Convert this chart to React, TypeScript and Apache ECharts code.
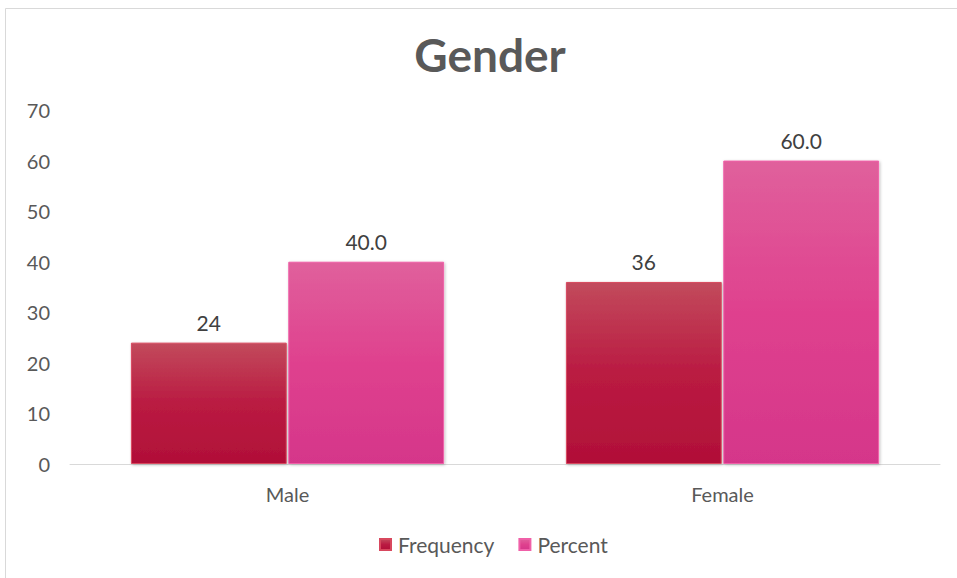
import React, { useEffect, useRef } from "react";
import * as echarts from "echarts";

const categories = ["Male", "Female"];
const frequency = [24, 36];
const percent = [40.0, 60.0];
const yTicks = [0, 10, 20, 30, 40, 50, 60, 70];

const FONT = "Lato, 'Open Sans', sans-serif";

export default function App() {
  const ref = useRef<HTMLDivElement>(null);
  useEffect(() => {
    if (!ref.current) return;
    const chart = echarts.init(ref.current, null, { renderer: "svg" });
    const freqColor = new echarts.graphic.LinearGradient(0, 0, 0, 1, [
      { offset: 0, color: "#c24a5c" },
      { offset: 0.5, color: "#ba1b42" },
      { offset: 1, color: "#b10f38" },
    ]);
    const pctColor = new echarts.graphic.LinearGradient(0, 0, 0, 1, [
      { offset: 0, color: "#e0609c" },
      { offset: 0.5, color: "#df418e" },
      { offset: 1, color: "#d5368a" },
    ]);
    chart.setOption({
      animation: false,
      backgroundColor: "#ffffff",
      title: {
        text: "Gender",
        left: 485,
        top: 26,
        textAlign: "center",
        textStyle: { fontFamily: FONT, fontSize: 46, fontWeight: "bold", color: "#595959" },
      },
      graphic: [
        {
          type: "rect",
          shape: { x: 5.5, y: 8.5, width: 960, height: 590 },
          style: { fill: "none", stroke: "#d9d9d9", lineWidth: 1 },
          silent: true,
        },
      ],
      legend: {
        bottom: 18,
        left: 374,
        itemWidth: 11,
        itemHeight: 11,
        itemGap: 24,
        icon: "rect",
        textStyle: { fontFamily: FONT, fontSize: 21, color: "#595959", padding: [0, 0, 0, 2] },
        data: ["Frequency", "Percent"],
      },
      grid: { left: 70, right: 17, top: 110, bottom: 114, containLabel: false },
      xAxis: {
        type: "category",
        data: categories,
        axisLine: { lineStyle: { color: "#d9d9d9", width: 1 } },
        axisTick: { show: false },
        axisLabel: { fontFamily: FONT, fontSize: 20, color: "#595959", margin: 20 },
      },
      yAxis: {
        type: "value",
        min: yTicks[0],
        max: yTicks[yTicks.length - 1],
        interval: 10,
        splitLine: { show: false },
        axisLine: { show: false },
        axisTick: { show: false },
        axisLabel: { fontFamily: FONT, fontSize: 20, color: "#595959", margin: 20 },
      },
      series: [
        {
          name: "Frequency",
          type: "bar",
          data: frequency,
          barGap: "1%",
          barCategoryGap: "28%",
          itemStyle: {
            color: freqColor,
            borderColor: "#d8485e",
            borderWidth: 1,
            shadowColor: "rgba(0,0,0,0.25)",
            shadowBlur: 3,
            shadowOffsetX: 1,
            shadowOffsetY: 1,
          },
          label: {
            show: true,
            position: "top",
            distance: 10,
            fontFamily: FONT,
            fontSize: 21,
            color: "#404040",
            formatter: (p: any) => String(p.value),
          },
        },
        {
          name: "Percent",
          type: "bar",
          data: percent,
          itemStyle: {
            color: pctColor,
            borderColor: "#f060a8",
            borderWidth: 1,
            shadowColor: "rgba(0,0,0,0.25)",
            shadowBlur: 3,
            shadowOffsetX: 1,
            shadowOffsetY: 1,
          },
          label: {
            show: true,
            position: "top",
            distance: 10,
            fontFamily: FONT,
            fontSize: 21,
            color: "#404040",
            formatter: (p: any) => Number(p.value).toFixed(1),
          },
        },
      ],
    });
    return () => chart.dispose();
  }, []);
  return (
    <div
      ref={ref}
      style={{ position: "absolute", left: 0, top: 0, width: 957, height: 578 }}
    />
  );
}
